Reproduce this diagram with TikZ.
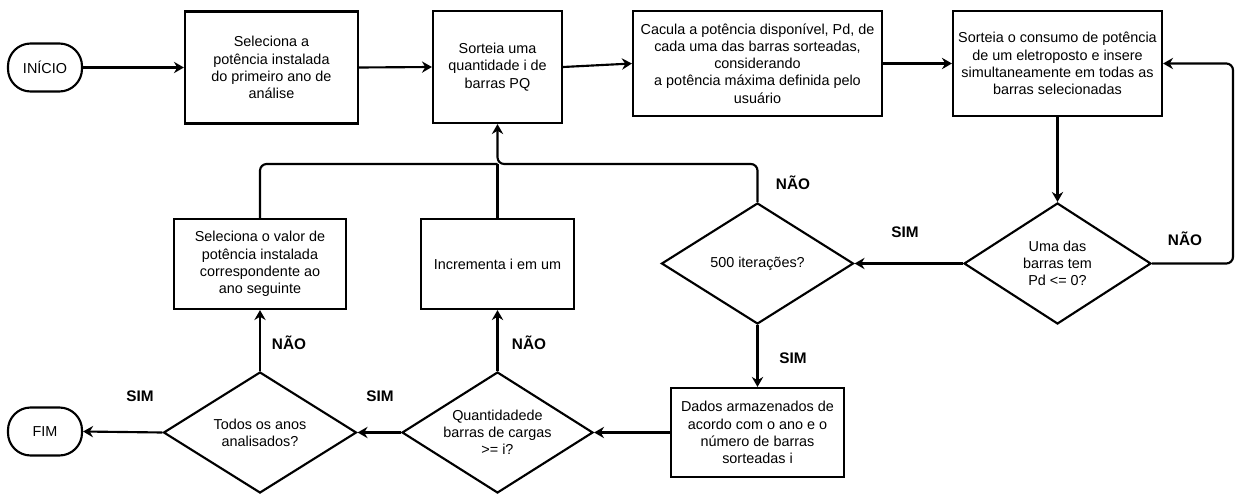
\documentclass[tikz,border=0pt]{standalone}
\usepackage{fontspec}
\setmainfont{Liberation Sans}
\usetikzlibrary{arrows.meta,shapes.geometric}

\begin{document}
\begin{tikzpicture}[
x=0.75pt, y=-0.75pt,
MyBoxes/.style={draw=black, line width=1.6pt, rectangle, align=center, inner sep=0pt, font=\fontsize{10.8}{12.9}\selectfont},
MyTerminals/.style={MyBoxes, rounded corners=17pt, minimum width=55.5pt, minimum height=36pt},
MyDiamonds/.style={draw=black, line width=1.6pt, diamond, aspect=1.58, inner sep=-2pt, align=center, font=\fontsize{10.8}{12.9}\selectfont},
MyLabels/.style={font=\fontsize{11.5}{13.5}\selectfont\bfseries, inner sep=0pt},
MyArrows/.style={line width=1.6pt, rounded corners=5pt, -{Stealth[length=7.5pt, width=8.5pt, inset=2.5pt]}},
MyLines/.style={line width=1.6pt, rounded corners=5pt}
]
\useasboundingbox (0,0) rectangle (1245,499);

\node[MyTerminals] (inicio) at (45,67.5) {INÍCIO};
\node[MyBoxes, minimum width=129.75pt, minimum height=84pt] (box1) at (271.5,67.5)
  {Seleciona a\\potência instalada\\do primeiro ano de\\análise};
\node[MyBoxes, minimum width=96.75pt, minimum height=84pt] (box2) at (497.5,67)
  {Sorteia uma\\quantidade i de\\barras PQ};
\node[MyBoxes, minimum width=186.75pt, minimum height=78.75pt] (box3) at (757.5,63.5)
  {Cacula a potência disponível, Pd, de\\cada uma das barras sorteadas,\\considerando\\a potência máxima definida pelo\\usuário};
\node[MyBoxes, minimum width=156.75pt, minimum height=78.75pt] (box4) at (1057.5,63.5)
  {Sorteia o consumo de potência\\de um eletroposto e insere\\simultaneamente em todas as\\barras selecionadas};

\node[MyDiamonds, minimum width=140.25pt, minimum height=90.75pt] (d1) at (1057.5,263.5)
  {Uma das\\barras tem\\Pd <= 0?};
\node[MyDiamonds, minimum width=144pt, minimum height=90.75pt] (d2) at (757.5,263.5)
  {500 iterações?};
\node[MyBoxes, minimum width=129.75pt, minimum height=66.75pt] (box5) at (757.5,432.5)
  {Dados armazenados de\\acordo com o ano e o\\número de barras\\sorteadas i};
\node[MyDiamonds, minimum width=143.25pt, minimum height=90.75pt] (d3) at (497.5,432.5)
  {Quantidadede\\barras de cargas\\>= i?};
\node[MyBoxes, minimum width=114.75pt, minimum height=67.5pt] (box6) at (497.5,264)
  {Incrementa i em um};
\node[MyBoxes, minimum width=129pt, minimum height=67.5pt] (box7) at (260,264)
  {Seleciona o valor de\\potência instalada\\correspondente ao\\ano seguinte};
\node[MyDiamonds, minimum width=144.75pt, minimum height=90.75pt] (d4) at (260,432.5)
  {Todos os anos\\analisados?};
\node[MyTerminals] (fim) at (45,431.5) {FIM};

\coordinate (J) at (497.5,164);
\coordinate (L) at (1233,63.5);

\draw[MyArrows] (inicio.east) -- (box1.west);
\draw[MyArrows] (box1.east) -- (box2.west);
\draw[MyArrows] (box2.east) -- (box3.west);
\draw[MyArrows] (box3.east) -- (box4.west);
\draw[MyArrows] (box4.south) -- (d1.north);
\draw[MyArrows] (d1.east) -| (L) -- (box4.east);
\draw[MyArrows] (d1.west) -- (d2.east);
\draw[MyArrows] (d2.north) |- (J) -- (box2.south);
\draw[MyLines] (box7.north) |- (J);
\draw[MyLines] (box6.north) -- (J);
\draw[MyArrows] (d2.south) -- (box5.north);
\draw[MyArrows] (box5.west) -- (d3.east);
\draw[MyArrows] (d3.north) -- (box6.south);
\draw[MyArrows] (d3.west) -- (d4.east);
\draw[MyArrows] (d4.north) -- (box7.south);
\draw[MyArrows] (d4.west) -- (fim.east);

\node[MyLabels] (nao1) at (793,183) {NÃO};
\node[MyLabels] (sim1) at (905,232) {SIM};
\node[MyLabels] (nao2) at (1185,239) {NÃO};
\node[MyLabels] (sim2) at (793,358) {SIM};
\node[MyLabels] (nao3) at (529,343) {NÃO};
\node[MyLabels] (nao4) at (289,343) {NÃO};
\node[MyLabels] (sim3) at (380,396) {SIM};
\node[MyLabels] (sim4) at (140,396) {SIM};

\end{tikzpicture}
\end{document}
